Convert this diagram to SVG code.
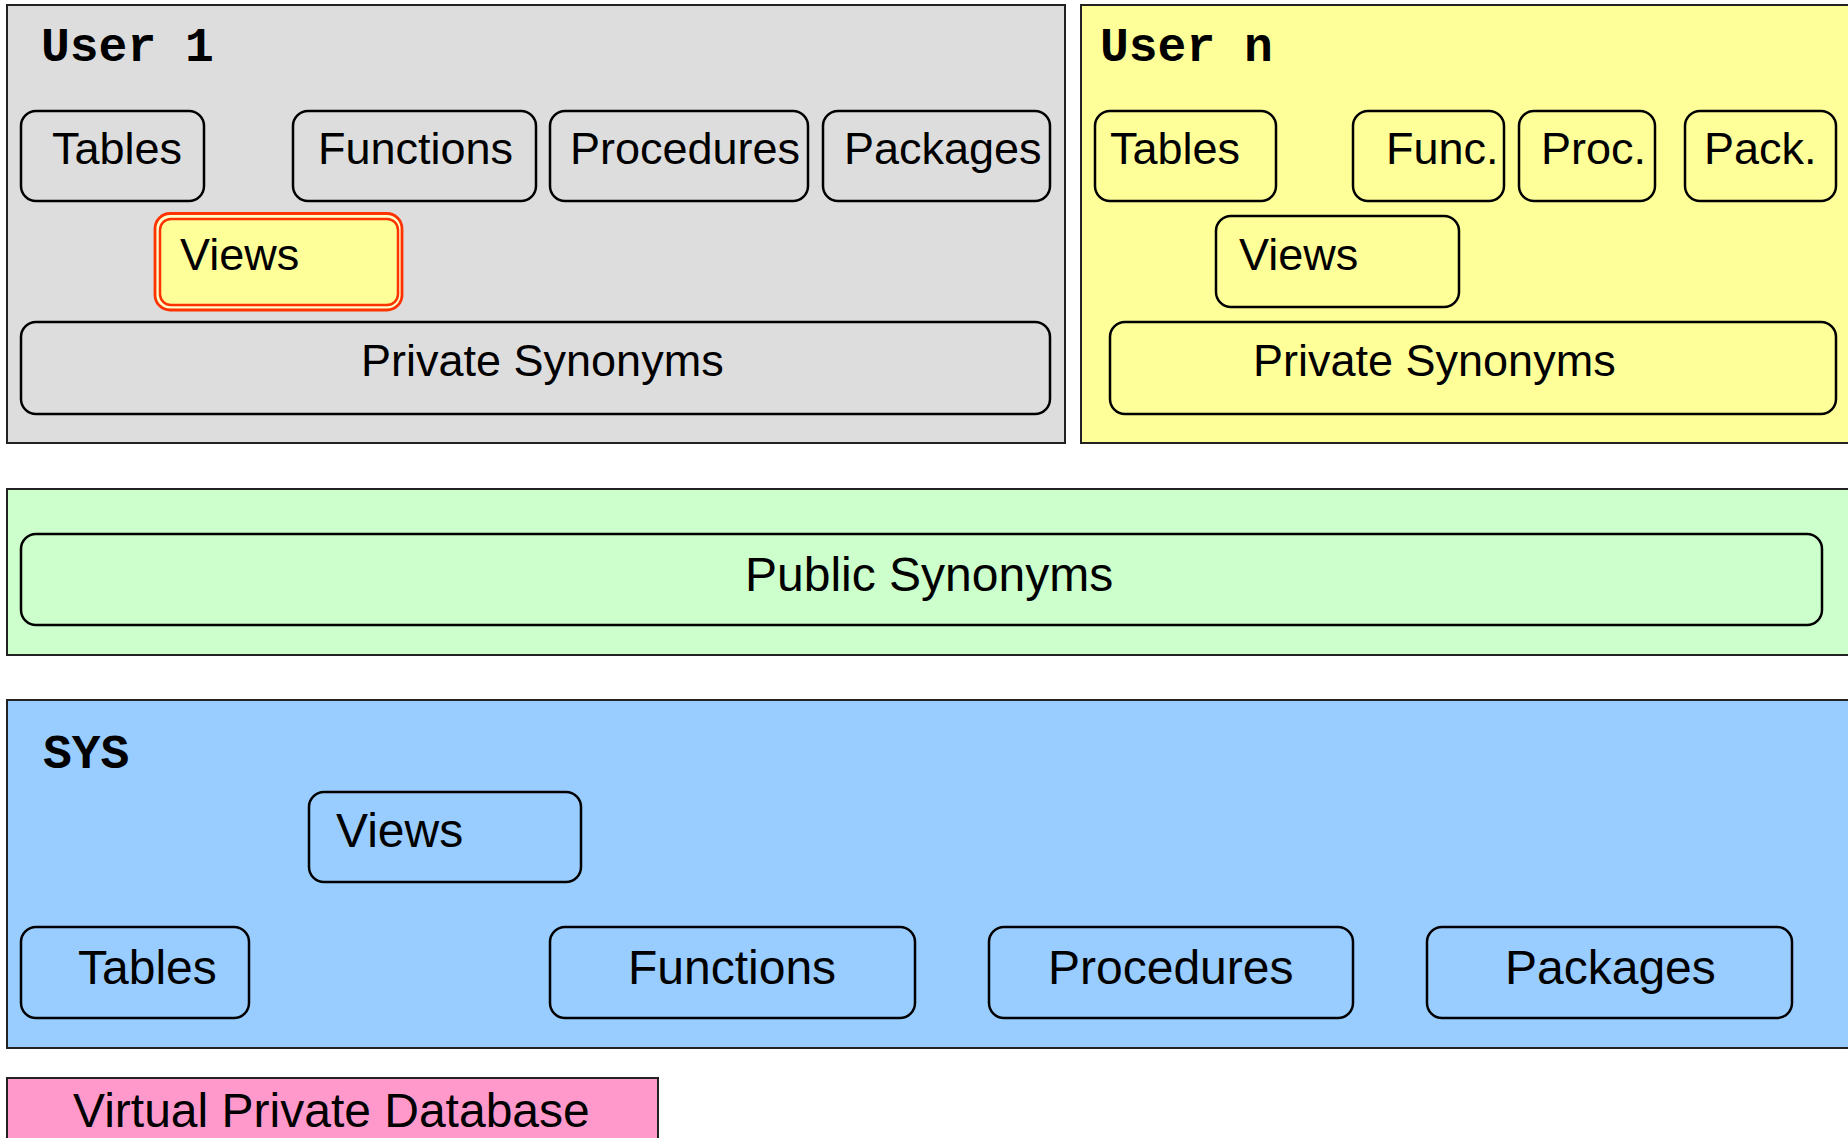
<svg xmlns="http://www.w3.org/2000/svg" width="1848" height="1138" viewBox="0 0 1848 1138">
  <style>
    .band { stroke: #222; stroke-width: 2; }
    .obj { stroke: #000; stroke-width: 2.5; }
    .title { font-family: "Liberation Mono", "Courier New", monospace; font-weight: bold; font-size: 48px; fill: #000; }
    .lbl { font-family: "Liberation Sans", Arial, sans-serif; font-size: 45px; fill: #000; }
    .big { font-family: "Liberation Sans", Arial, sans-serif; font-size: 48px; fill: #000; }
    .gray { fill: #dddddd; }
    .yellow { fill: #ffff99; }
    .green { fill: #ccffcc; }
    .blue { fill: #99ccff; }
    .pink { fill: #ff99cc; }
  </style>
  <rect width="1848" height="1138" fill="#ffffff"/>

  <!-- Schema of the first user -->
  <g id="user1">
    <rect class="band gray" x="7" y="5" width="1058" height="438"/>
    <text class="title" x="41" y="61">User 1</text>
    <g id="user1-tables"><rect class="obj gray" x="21" y="111" width="183" height="90" rx="15"/><text class="lbl" x="52" y="164">Tables</text></g>
    <g id="user1-functions"><rect class="obj gray" x="293" y="111" width="243" height="90" rx="15"/><text class="lbl" x="318" y="164">Functions</text></g>
    <g id="user1-procedures"><rect class="obj gray" x="550" y="111" width="258" height="90" rx="15"/><text class="lbl" x="570" y="164">Procedures</text></g>
    <g id="user1-packages"><rect class="obj gray" x="823" y="111" width="227" height="90" rx="15"/><text class="lbl" x="844" y="164">Packages</text></g>
    <g id="user1-views">
      <rect x="155" y="213.5" width="247" height="96.5" rx="15" fill="#ffffcc" stroke="#ff3300" stroke-width="2.8"/>
      <rect x="160" y="219" width="238" height="86" rx="11" fill="#ffff99" stroke="#ff3300" stroke-width="2.5"/>
      <text class="lbl" x="180" y="270">Views</text>
    </g>
    <g id="user1-private-synonyms"><rect class="obj gray" x="21" y="322" width="1029" height="92" rx="15"/><text class="lbl" x="361" y="376">Private Synonyms</text></g>
  </g>

  <!-- Schema of user n -->
  <g id="usern">
    <rect class="band yellow" x="1081" y="5" width="780" height="438"/>
    <text class="title" x="1100" y="61">User n</text>
    <g id="usern-tables"><rect class="obj yellow" x="1095" y="111" width="181" height="90" rx="15"/><text class="lbl" x="1110" y="164">Tables</text></g>
    <g id="usern-func"><rect class="obj yellow" x="1353" y="111" width="151" height="90" rx="15"/><text class="lbl" x="1386" y="164">Func.</text></g>
    <g id="usern-proc"><rect class="obj yellow" x="1519" y="111" width="136" height="90" rx="15"/><text class="lbl" x="1541" y="164">Proc.</text></g>
    <g id="usern-pack"><rect class="obj yellow" x="1685" y="111" width="151" height="90" rx="15"/><text class="lbl" x="1704" y="164">Pack.</text></g>
    <g id="usern-views"><rect class="obj yellow" x="1216" y="216" width="243" height="91" rx="15"/><text class="lbl" x="1239" y="270">Views</text></g>
    <g id="usern-private-synonyms"><rect class="obj yellow" x="1110" y="322" width="726" height="92" rx="15"/><text class="lbl" x="1253" y="376">Private Synonyms</text></g>
  </g>

  <!-- Public synonyms layer -->
  <g id="public">
    <rect class="band green" x="7" y="489" width="1854" height="166"/>
    <g id="public-synonyms"><rect class="obj green" x="21" y="534" width="1801" height="91" rx="15"/><text class="big" x="745" y="591">Public Synonyms</text></g>
  </g>

  <!-- SYS schema -->
  <g id="sys">
    <rect class="band blue" x="7" y="700" width="1854" height="348"/>
    <text class="title" x="43" y="768">SYS</text>
    <g id="sys-views"><rect class="obj blue" x="309" y="792" width="272" height="90" rx="15"/><text class="big" x="336" y="847">Views</text></g>
    <g id="sys-tables"><rect class="obj blue" x="21" y="927" width="228" height="91" rx="15"/><text class="big" x="78" y="984">Tables</text></g>
    <g id="sys-functions"><rect class="obj blue" x="550" y="927" width="365" height="91" rx="15"/><text class="big" x="628" y="984">Functions</text></g>
    <g id="sys-procedures"><rect class="obj blue" x="989" y="927" width="364" height="91" rx="15"/><text class="big" x="1048" y="984">Procedures</text></g>
    <g id="sys-packages"><rect class="obj blue" x="1427" y="927" width="365" height="91" rx="15"/><text class="big" x="1505" y="984">Packages</text></g>
  </g>

  <!-- Virtual Private Database layer -->
  <g id="vpd">
    <rect class="band pink" x="7" y="1078" width="651" height="80"/>
    <text class="big" x="73" y="1127">Virtual Private Database</text>
  </g>

  <g id="connectors"/>
</svg>
